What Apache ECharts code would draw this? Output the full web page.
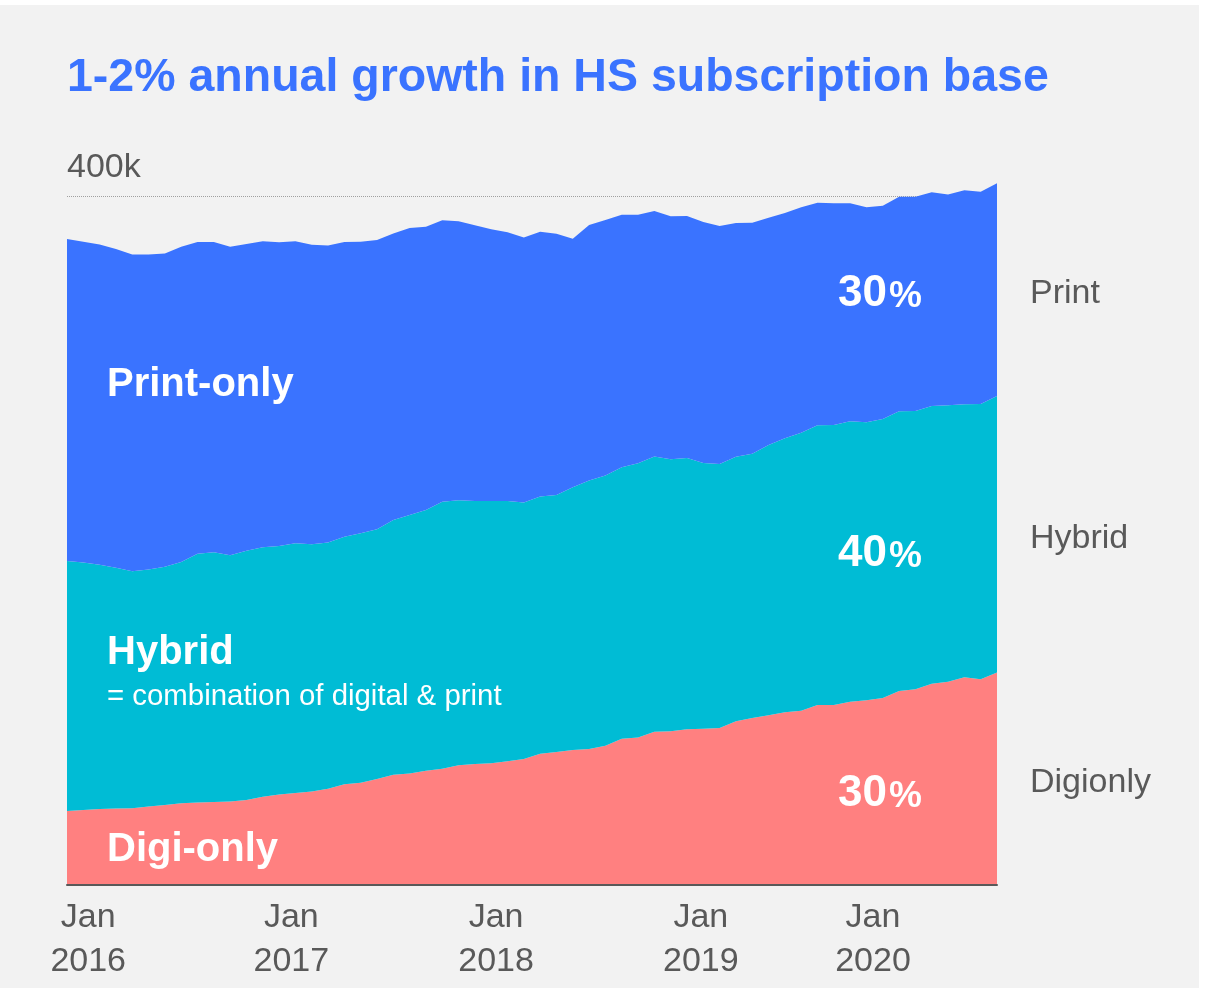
<!DOCTYPE html>
<html><head><meta charset="utf-8">
<script src="https://cdn.jsdelivr.net/npm/echarts@6/dist/echarts.min.js"></script>
<style>
html,body{margin:0;padding:0;background:#fff;width:1211px;height:988px;overflow:hidden;}
#c{position:absolute;left:0;top:5px;width:1199px;height:983px;}
</style></head><body><div id="c"></div>
<script>
// Monthly subscriptions (thousands), Jan 2016 .. Oct 2020
const digiOnly = [43.0,43.5,44.1,44.4,44.5,45.6,46.4,47.4,47.9,48.2,48.5,49.3,
  51.3,52.5,53.4,54.3,55.9,58.5,59.4,61.5,64.0,64.8,66.4,67.5,
  69.5,70.2,70.7,71.8,73.1,76.2,77.2,78.4,79.0,80.9,84.9,85.7,
  89.0,89.2,90.4,90.7,91.1,95.0,97.0,98.5,100.3,101.2,104.5,104.5,
  106.4,107.2,108.6,112.6,113.6,116.9,118.0,120.6,119.4,123.3];
const hybrid = [145.1,143.8,141.8,139.8,137.6,137.5,138.3,140.1,144.4,145.0,142.9,144.7,
  144.8,144.3,145.0,143.5,143.0,143.7,144.8,145.1,147.9,150.0,151.3,155.0,
  153.8,152.7,152.3,151.1,149.0,149.4,149.2,152.5,155.8,156.9,157.6,159.1,
  159.7,157.9,157.5,154.3,153.3,153.6,153.3,156.9,159.1,161.4,162.4,162.6,
  162.8,161.4,162.0,162.4,161.6,161.2,160.5,158.5,159.8,160.6];
const printOnly = [186.9,186.2,186.0,185.0,184.0,182.9,181.9,183.0,181.0,180.1,179.2,178.1,
  177.6,176.3,175.3,173.9,172.4,171.1,169.3,167.8,166.4,166.6,164.5,163.4,
  162.0,160.1,157.7,156.0,153.8,153.6,151.7,144.3,148.4,148.2,146.6,144.3,
  142.6,141.2,140.5,139.9,138.2,135.7,134.1,132.0,130.8,130.9,129.2,128.7,
  126.6,124.8,123.8,124.6,124.4,124.1,122.3,124.2,123.3,123.5];
const monthNames = ['Jan','Feb','Mar','Apr','May','Jun','Jul','Aug','Sep','Oct','Nov','Dec'];
const months = digiOnly.map((_, i) => monthNames[i % 12] + ' ' + (2016 + Math.floor(i / 12)));
// x tick labels and the month index where each label is centred
const xTickLabels = ['Jan\n2016','Jan\n2017','Jan\n2018','Jan\n2019','Jan\n2020'];
const xTickPos = [1.3, 13.75, 26.3, 38.85, 49.4];
const yTicks = [400];
const yTickLabels = ['400k'];
const sideLabels = ['Print','Hybrid','Digionly'];
const shareLabels = ['30','40','30'];

const C_PRINT = '#3a73ff', C_HYB = '#00bcd5', C_DIGI = '#ff8080', GRAY = '#595959';
const FONT = 'Liberation Sans, Arial, Helvetica, sans-serif';

const chart = echarts.init(document.getElementById('c'), null, {renderer:'canvas'});
const areaSeries = (name, data, color) => ({
  name, type:'line', stack:'total', xAxisIndex:0, yAxisIndex:0, data: data,
  showSymbol:false, symbol:'none', z:2,
  clip:false, lineStyle:{width:0, color}, itemStyle:{color},
  areaStyle:{color, opacity:1}, emphasis:{disabled:true}, silent:true, animation:false
});

chart.setOption({
  backgroundColor:'#f2f2f2',
  animation:false,
  textStyle:{fontFamily:FONT},
  title:{
    text:'1-2% annual growth in HS subscription base',
    left:67, top:50, padding:0,
    textStyle:{color:C_PRINT, fontSize:46.5, fontWeight:'bold', fontFamily:FONT, lineHeight:46}
  },
  grid:{left:67, right:202, top:191, bottom:103, containLabel:false},
  xAxis:[{
    type:'category', data:months, boundaryGap:false, position:'bottom', z:10,
    axisLine:{show:true, onZero:false, lineStyle:{color:GRAY, width:2}},
    axisTick:{show:false}, splitLine:{show:false}, axisLabel:{show:false}
  },{
    type:'value', min:0, max:digiOnly.length-1, position:'bottom',
    axisLine:{show:false}, axisTick:{show:false}, splitLine:{show:false},
    axisLabel:{
      customValues: xTickPos,
      formatter: v => { const k = xTickPos.indexOf(v); return k>=0 ? xTickLabels[k] : ''; },
      color:GRAY, fontSize:34, lineHeight:44, margin:11, fontFamily:FONT
    }
  }],
  yAxis:{
    type:'value', min:0, max:400, interval:400,
    axisLine:{show:false}, axisTick:{show:false},
    splitLine:{show:true, lineStyle:{color:'#a0a0a0', type:'dotted', width:1}},
    axisLabel:{
      inside:true, margin:0, align:'left', verticalAlign:'bottom',
      showMinLabel:false, color:GRAY, fontSize:34, lineHeight:34,
      padding:[0,0,11,0], fontFamily:FONT,
      formatter: v => { const k = yTicks.indexOf(v); return k>=0 ? yTickLabels[k] : ''; }
    }
  },
  series:[
    areaSeries('Digi-only', digiOnly, C_DIGI),
    areaSeries('Hybrid', hybrid, C_HYB),
    areaSeries('Print-only', printOnly, C_PRINT)
  ]
});

// annotations
const last = digiOnly.length-1;
const d = digiOnly[last], h = hybrid[last], p = printOnly[last];
const mids = [d+h+p/2, d+h/2, d/2];
const graphics = [];
sideLabels.forEach((t,k)=>{
  const pt = chart.convertToPixel({xAxisIndex:0, yAxisIndex:0}, [last, mids[k]]);
  graphics.push({type:'text', left:1030, top:pt[1]-15, silent:true, z:100,
    style:{text:t, fill:GRAY, fontSize:34, fontFamily:FONT, lineHeight:38}});
});
const wText = (txt, x, yc, size, bold) => ({type:'text', left:x, top:yc - size*0.55, silent:true, z:100,
  style:{text:txt, fill:'#fff', fontSize:size, fontWeight:bold?'bold':'normal', fontFamily:FONT, lineHeight:size*1.1}});
graphics.push(wText('Print-only',107,380,40,true));
graphics.push(wText('Hybrid',107,648,40,true));
graphics.push(wText('= combination of digital & print',107,692,29.4,false));
graphics.push(wText('Digi-only',107,845,40,true));
const shareY = [291,551,791];
shareLabels.forEach((t,k)=>{
  graphics.push({type:'text', left:838, top:shareY[k]-24, silent:true, z:100,
    style:{text:'{a|'+t+'}{b|%}', fill:'#fff', fontFamily:FONT,
      rich:{a:{fontSize:44, fontWeight:'bold', fill:'#fff', fontFamily:FONT, lineHeight:48, verticalAlign:'bottom'},
            b:{fontSize:37, fontWeight:'bold', fill:'#fff', fontFamily:FONT, lineHeight:46, verticalAlign:'bottom', padding:[0,0,1,2]}}}});
});
chart.setOption({graphic:{elements:graphics}});
</script></body></html>
